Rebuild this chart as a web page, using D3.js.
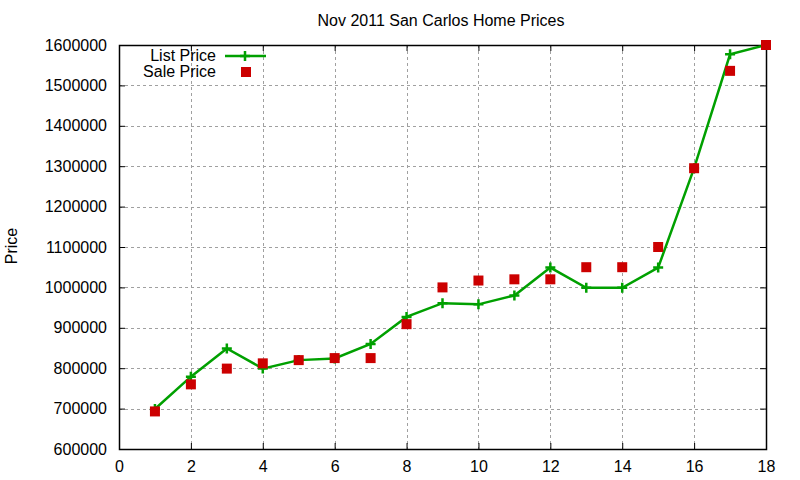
<!DOCTYPE html>
<html>
<head>
<meta charset="utf-8">
<script src="https://cdn.jsdelivr.net/npm/d3@7"></script>
<style>
  body { margin: 0; background: #fff; }
  text { font-family: "Liberation Sans", Arial, sans-serif; fill: #000; }
</style>
</head>
<body>
<div id="main"></div>
<script>
const ctx = {
    w: 800,
    h: 480,
    left: 119,
    right: 766,
    top: 45,
    bottom: 449,
    font: "16px",
};

// data
const houses = [1, 2, 3, 4, 5, 6, 7, 8, 9, 10, 11, 12, 13, 14, 15, 16, 17, 18];
const listPrice = [699000, 779000, 849000, 799000, 820000, 824000, 860000, 927000, 961000, 958000,
                   980000, 1049000, 999000, 999000, 1049000, 1295000, 1577000, 1600000];
const salePrice = [693000, 760000, 799000, 812000, 820000, 825000, 825000, 909000, 1000000, 1017000,
                   1020000, 1020000, 1050000, 1050000, 1100000, 1295000, 1536000, 1600000];
const xTicks = [0, 2, 4, 6, 8, 10, 12, 14, 16, 18];
const yTicks = [600000, 700000, 800000, 900000, 1000000, 1100000, 1200000, 1300000, 1400000, 1500000, 1600000];

const green = "#00a000";
const red = "#cc0000";

function drawChart(svg) {
    let x = d3.scaleLinear().domain([0, 18]).range([ctx.left, ctx.right]);
    let y = d3.scaleLinear().domain([600000, 1600000]).range([ctx.bottom, ctx.top]);

    // grid
    let grid = svg.append("g")
        .attr("stroke", "#a0a0a0")
        .attr("stroke-width", 1)
        .attr("stroke-dasharray", "3,3");
    grid.selectAll(".gx")
        .data(xTicks.slice(1, -1))
        .enter().append("line")
        .attr("x1", d => Math.round(x(d)) + 0.5)
        .attr("x2", d => Math.round(x(d)) + 0.5)
        .attr("y1", ctx.top)
        .attr("y2", ctx.bottom);
    grid.selectAll(".gy")
        .data(yTicks.slice(1, -1))
        .enter().append("line")
        .attr("x1", ctx.left)
        .attr("x2", ctx.right)
        .attr("y1", d => Math.round(y(d)) + 0.5)
        .attr("y2", d => Math.round(y(d)) + 0.5);

    // axes, ticks inward and mirrored
    let fmt = d3.format("d");
    svg.append("g")
        .attr("transform", `translate(0,${ctx.bottom})`)
        .call(d3.axisBottom(x).tickValues(xTicks).tickFormat(fmt).tickSizeInner(-6).tickSizeOuter(0).tickPadding(12))
        .call(g => g.select(".domain").remove());
    svg.append("g")
        .attr("transform", `translate(0,${ctx.top})`)
        .call(d3.axisTop(x).tickValues(xTicks).tickFormat("").tickSizeInner(-6).tickSizeOuter(0))
        .call(g => g.select(".domain").remove());
    svg.append("g")
        .attr("transform", `translate(${ctx.left},0)`)
        .call(d3.axisLeft(y).tickValues(yTicks).tickFormat(fmt).tickSizeInner(-6).tickSizeOuter(0).tickPadding(12))
        .call(g => g.select(".domain").remove());
    svg.append("g")
        .attr("transform", `translate(${ctx.right},0)`)
        .call(d3.axisRight(y).tickValues(yTicks).tickFormat("").tickSizeInner(-6).tickSizeOuter(0))
        .call(g => g.select(".domain").remove());

    svg.selectAll(".tick line").attr("stroke", "#000");
    svg.selectAll(".tick text")
        .style("font-family", "'Liberation Sans', Arial, sans-serif")
        .style("font-size", ctx.font)
        .attr("fill", "#000");

    svg.append("rect")
        .attr("x", ctx.left + 0.5)
        .attr("y", ctx.top + 0.5)
        .attr("width", ctx.right - ctx.left)
        .attr("height", ctx.bottom - ctx.top)
        .attr("fill", "none")
        .attr("stroke", "#000")
        .attr("stroke-width", 1.5);

    // list price line + cross markers
    let line = d3.line()
        .x((d, i) => x(houses[i]))
        .y(d => y(d));
    svg.append("path")
        .datum(listPrice)
        .attr("d", line)
        .attr("fill", "none")
        .attr("stroke", green)
        .attr("stroke-width", 2.5);

    svg.selectAll(".cross")
        .data(listPrice)
        .enter().append("path")
        .attr("transform", (d, i) => `translate(${x(houses[i])},${y(d)})`)
        .attr("d", "M-5,0H5M0,-5V5")
        .attr("stroke", green)
        .attr("stroke-width", 2.5);

    // sale price squares
    svg.selectAll(".sq")
        .data(salePrice)
        .enter().append("rect")
        .attr("x", (d, i) => x(houses[i]) - 5)
        .attr("y", d => y(d) - 5)
        .attr("width", 10)
        .attr("height", 10)
        .attr("fill", red);

    // legend
    let leg = svg.append("g").style("font-size", ctx.font);
    leg.append("text").attr("x", 216).attr("y", 61).attr("text-anchor", "end").text("List Price");
    leg.append("line").attr("x1", 225).attr("x2", 266).attr("y1", 56).attr("y2", 56)
        .attr("stroke", green).attr("stroke-width", 2.5);
    leg.append("path").attr("transform", "translate(245,56)").attr("d", "M-5,0H5M0,-5V5")
        .attr("stroke", green).attr("stroke-width", 2.5);
    leg.append("text").attr("x", 216).attr("y", 77).attr("text-anchor", "end").text("Sale Price");
    leg.append("rect").attr("x", 241).attr("y", 67).attr("width", 10).attr("height", 10).attr("fill", red);

    // title and y label
    svg.append("text")
        .attr("x", 441).attr("y", 26)
        .attr("text-anchor", "middle")
        .style("font-size", ctx.font)
        .text("Nov 2011 San Carlos Home Prices");
    svg.append("text")
        .attr("transform", "translate(17,246) rotate(-90)")
        .attr("text-anchor", "middle")
        .style("font-size", ctx.font)
        .text("Price");
}

let svgEl = d3.select("#main").append("svg")
    .attr("width", ctx.w)
    .attr("height", ctx.h);
drawChart(svgEl);
</script>
</body>
</html>
